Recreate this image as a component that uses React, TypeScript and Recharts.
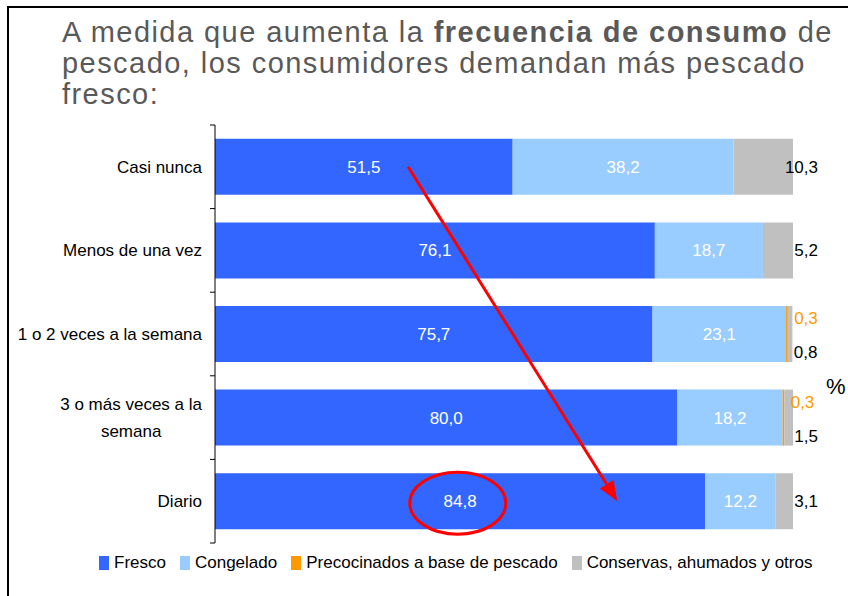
import React from 'react';
import { BarChart, Bar, XAxis, YAxis, LabelList, ReferenceLine, ReferenceDot } from 'recharts';

const categories = ['Casi nunca', 'Menos de una vez', '1 o 2 veces a la semana', '3 o más veces a la semana', 'Diario'];
const tickLabels = ['Casi nunca', 'Menos de una vez', '1 o 2 veces a la semana', '3 o más veces a la\nsemana', 'Diario'];
const fresco = [51.5, 76.1, 75.7, 80.0, 84.8];
const congelado = [38.2, 18.7, 23.1, 18.2, 12.2];
const precocinados = [0, 0, 0.3, 0.3, 0];
const conservas = [10.3, 5.2, 0.8, 1.5, 3.1];
const seriesKeys = ['fresco', 'congelado', 'precocinados', 'conservas'];
const seriesNames = ['Fresco', 'Congelado', 'Precocinados a base de pescado', 'Conservas, ahumados y otros'];
const seriesColors = ['#3366FF', '#99CCFF', '#FF9900', '#C0C0C0'];

// annotation (value on % axis, category)
const arrowStart = { x: 33.4, y: 'Casi nunca' };
const arrowEnd = { x: 69.6, y: 'Diario' };
const circleAt = { x: 42.0, y: 'Diario' };

const data = categories.map((name, i) => ({
  name,
  fresco: fresco[i],
  congelado: congelado[i],
  precocinados: precocinados[i],
  conservas: conservas[i],
}));

const FONT = '"Liberation Sans", Arial, sans-serif';
const W = 848;
const H = 596;
const MARGIN = { top: 125, right: 55, bottom: 53, left: 0 };
const YAXIS_W = 215;
const TICK_MARGIN = 13;
const PLOT_H = H - MARGIN.top - MARGIN.bottom;
const BAND = PLOT_H / categories.length;

const fmt = (v: number) => v.toFixed(1).replace('.', ',');

let ctx: CanvasRenderingContext2D | null = null;
const measure = (s: string, size: number) => {
  if (!ctx) {
    const c = document.createElement('canvas');
    ctx = c.getContext('2d');
  }
  if (!ctx) return s.length * size * 0.5;
  ctx.font = `${size}px "Liberation Sans", Arial, sans-serif`;
  return ctx.measureText(s).width;
};

const CatTick = (props: any) => {
  const { x, y, payload } = props;
  const idx = categories.indexOf(payload.value);
  const lines = (tickLabels[idx] ?? String(payload.value)).split('\n');
  const axisX = x + TICK_MARGIN;
  const half = BAND / 2;
  const lh = 27;
  const w0 = measure(lines[0], 17);
  const cx = x - w0 / 2;
  return (
    <g>
      <line x1={axisX - 5} x2={axisX} y1={y - half} y2={y - half} stroke="#000" strokeWidth={1} />
      {idx === categories.length - 1 && (
        <line x1={axisX - 5} x2={axisX} y1={y + half} y2={y + half} stroke="#000" strokeWidth={1} />
      )}
      {lines.map((ln, i) => (
        <text
          key={i}
          x={lines.length === 1 ? x : cx}
          y={y + (i - (lines.length - 1) / 2) * lh}
          dy="0.35em"
          textAnchor={lines.length === 1 ? 'end' : 'middle'}
          fontSize={17}
          fontFamily={FONT}
          fill="#000"
        >
          {ln}
        </text>
      ))}
    </g>
  );
};

const box = (p: any) => {
  const vb = p.viewBox ?? p;
  return { x: vb.x ?? p.x, y: vb.y ?? p.y, width: vb.width ?? p.width, height: vb.height ?? p.height };
};

const PrecoLabel = (p: any) => {
  const v = Number(p.value);
  if (!v) return null;
  const b = box(p);
  return (
    <text x={b.x + b.width + 30} y={b.y + b.height / 2 - 16} dy="0.35em" textAnchor="end" fontSize={17} fontFamily={FONT} fill="#FF9900">
      {fmt(v)}
    </text>
  );
};

const ConsLabel = (p: any) => {
  const v = Number(p.value);
  const b = box(p);
  const idx = typeof p.index === 'number' ? p.index : -1;
  const shift = idx >= 0 && precocinados[idx] > 0 ? 18 : 0;
  return (
    <text x={b.x + b.width + 25} y={b.y + b.height / 2 + shift} dy="0.35em" textAnchor="end" fontSize={17} fontFamily={FONT} fill="#000">
      {fmt(v)}
    </text>
  );
};

const Arrow = (p: any) => {
  const { x1, y1, x2, y2 } = p;
  if ([x1, y1, x2, y2].some((v) => typeof v !== 'number' || isNaN(v))) return null;
  const dx = x2 - x1;
  const dy = y2 - y1;
  const len = Math.sqrt(dx * dx + dy * dy);
  const ux = dx / len;
  const uy = dy / len;
  const headL = 20;
  const headW = 8;
  const bx = x2 - ux * headL;
  const by = y2 - uy * headL;
  const pts = `${x2},${y2} ${bx - uy * headW},${by + ux * headW} ${bx + uy * headW},${by - ux * headW}`;
  return (
    <g>
      <line x1={x1} y1={y1} x2={bx} y2={by} stroke="#FF0000" strokeWidth={3} />
      <polygon points={pts} fill="#FF0000" />
    </g>
  );
};

const Ellipse = (p: any) => {
  const { cx, cy } = p;
  if (typeof cx !== 'number' || typeof cy !== 'number') return null;
  return <ellipse cx={cx} cy={cy + 2} rx={48} ry={31} fill="none" stroke="#FF0000" strokeWidth={3} />;
};

export default function App() {
  return (
    <div style={{ position: 'absolute', left: 0, top: 0, width: W, height: H, overflow: 'hidden', background: '#fff', fontFamily: FONT }}>
      <div
        style={{
          position: 'absolute',
          left: 7,
          top: 6,
          width: W - 7,
          height: H - 6,
          borderTop: '2px solid #000',
          borderLeft: '2px solid #000',
          boxSizing: 'border-box',
        }}
      />
      <div
        style={{
          position: 'absolute',
          left: 62,
          top: 17,
          width: 786,
          fontSize: 29,
          lineHeight: '31px',
          letterSpacing: '1.45px',
          color: '#595959',
          fontFamily: FONT,
          whiteSpace: 'nowrap',
        }}
      >
        A medida que aumenta la <b>frecuencia de consumo</b> de
        <br />
        pescado, los consumidores demandan más pescado
        <br />
        fresco:
      </div>
      <div style={{ position: 'absolute', left: 0, top: 0 }}>
        <BarChart
          width={W}
          height={H}
          data={data}
          layout="vertical"
          margin={MARGIN}
          barCategoryGap="16.5%"
        >
          <XAxis type="number" domain={[0, 100]} hide allowDataOverflow />
          <YAxis
            type="category"
            dataKey="name"
            width={YAXIS_W}
            axisLine={{ stroke: '#000', strokeWidth: 1 }}
            tickLine={false}
            tickSize={0}
            tickMargin={TICK_MARGIN}
            tick={<CatTick />}
            interval={0}
          />
          <Bar dataKey="fresco" stackId="a" fill={seriesColors[0]} isAnimationActive={false}>
            <LabelList dataKey="fresco" position="center" fill="#fff" fontSize={17} fontFamily={FONT} formatter={(v: any) => fmt(Number(v))} />
          </Bar>
          <Bar dataKey="congelado" stackId="a" fill={seriesColors[1]} isAnimationActive={false}>
            <LabelList dataKey="congelado" position="center" fill="#fff" fontSize={17} fontFamily={FONT} formatter={(v: any) => fmt(Number(v))} />
          </Bar>
          <Bar dataKey="precocinados" stackId="a" fill={seriesColors[2]} isAnimationActive={false}>
            <LabelList dataKey="precocinados" content={<PrecoLabel />} />
          </Bar>
          <Bar dataKey="conservas" stackId="a" fill={seriesColors[3]} isAnimationActive={false}>
            <LabelList dataKey="conservas" content={<ConsLabel />} />
          </Bar>
          <ReferenceLine segment={[arrowStart, arrowEnd]} shape={(p: any) => <Arrow {...p} />} ifOverflow="visible" />
          <ReferenceDot x={circleAt.x} y={circleAt.y} r={48} shape={(p: any) => <Ellipse {...p} />} ifOverflow="visible" />
        </BarChart>
      </div>
      <div style={{ position: 'absolute', left: 826, top: 374, fontSize: 22, color: '#000', fontFamily: FONT }}>%</div>
      <div
        style={{
          position: 'absolute',
          left: 99,
          top: 553,
          display: 'flex',
          alignItems: 'center',
          fontSize: 17,
          color: '#000',
          fontFamily: FONT,
          whiteSpace: 'nowrap',
        }}
      >
        {seriesNames.map((n, i) => (
          <div key={seriesKeys[i]} style={{ display: 'flex', alignItems: 'center', marginRight: 14 }}>
            <span style={{ display: 'inline-block', width: 10, height: 14, background: seriesColors[i], marginRight: 5 }} />
            <span>{n}</span>
          </div>
        ))}
      </div>
    </div>
  );
}
